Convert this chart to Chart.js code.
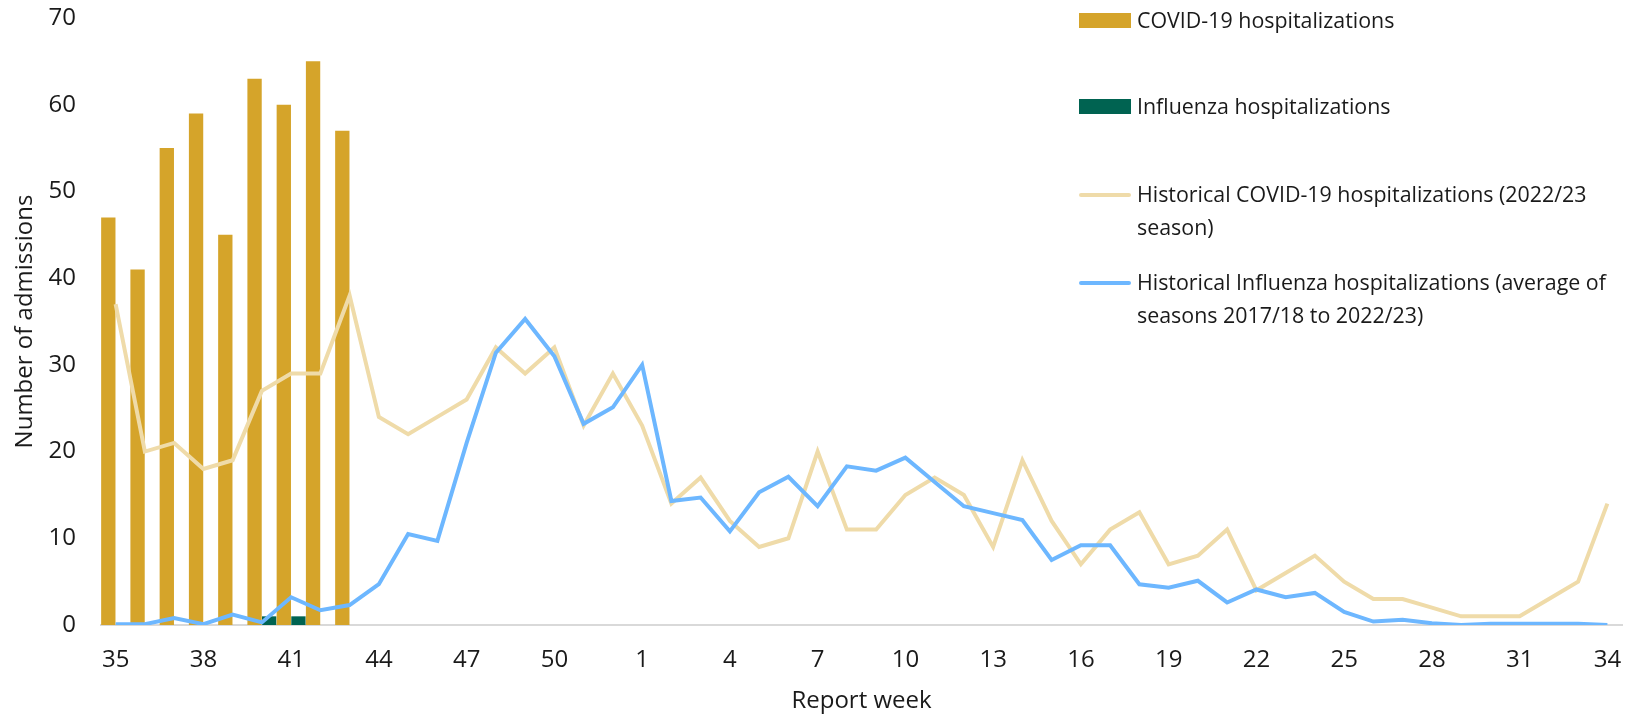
<!DOCTYPE html>
<html>
<head>
<meta charset="utf-8">
<script src="https://cdn.jsdelivr.net/npm/chart.js@4.4.0/dist/chart.umd.min.js"></script>
<style>
    body { margin: 0; background: #fff; }
    #wrap { position: relative; width: 1631px; height: 716px; font-family: "Open Sans", sans-serif; color: #1a1a1a; }
    #legend { position: absolute; left: 0; top: 0; }
    .item { position: absolute; left: 1137px; font-size: 21.4px; line-height: 32.5px; white-space: nowrap; }
    .sw { position: absolute; left: -58px; width: 52px; }
</style>
</head>
<body>
<div id="wrap">
    <canvas id="chart" width="1631" height="716"></canvas>
    <div id="legend"></div>
</div>
<script>
// report weeks, season 2023/24
const weeks = [35, 36, 37, 38, 39, 40, 41, 42, 43, 44, 45, 46, 47, 48, 49, 50, 51, 52,
    1, 2, 3, 4, 5, 6, 7, 8, 9, 10, 11, 12, 13, 14, 15, 16, 17, 18, 19, 20, 21, 22, 23, 24,
    25, 26, 27, 28, 29, 30, 31, 32, 33, 34];

const covidHosp = [47, 41, 55, 59, 45, 63, 60, 65, 57];
const fluHosp = [0, 0, 0, 0, 0, 1, 1, 0, 0];

const histCovid = [37, 20, 21, 18, 19, 27, 29, 29, 38, 24, 22, 24, 26, 32, 29, 32, 23, 29,
    23, 14, 17, 12, 9, 10, 20, 11, 11, 15, 17, 15, 9, 19, 12, 7,
    11, 13, 7, 8, 11, 4, 6, 8, 5, 3, 3, 2, 1, 1, 1, 3, 5, 14];

const histFlu = [0.1, 0.1, 0.8, 0.1, 1.2, 0.3, 3.2, 1.7, 2.3, 4.7, 10.5, 9.7, 21, 31.4, 35.3, 31, 23.2, 25.1,
    30, 14.3, 14.7, 10.8, 15.3, 17.1, 13.7, 18.3, 17.8, 19.3, 16.5, 13.7, 12.9, 12.1, 7.5, 9.2,
    9.2, 4.7, 4.3, 5.1, 2.6, 4.1, 3.2, 3.7, 1.5, 0.4, 0.6, 0.2, 0, 0.15, 0.15, 0.15, 0.15, 0];

const yTicks = [0, 10, 20, 30, 40, 50, 60, 70];

const seriesNames = [
    'COVID-19 hospitalizations',
    'Influenza hospitalizations',
    'Historical COVID-19 hospitalizations (2022/23 season)',
    'Historical Influenza hospitalizations (average of seasons 2017/18 to 2022/23)'
];

const colors = {
    covid: '#D5A42A',
    flu: '#006351',
    histCovid: '#EFDBA9',
    histFlu: '#6DB7FF',
    axis: '#D9D9D9'
};

function buildLegend() {
    const legend = document.getElementById('legend');
    const rows = [
        { top: 4, kind: 'bar', color: colors.covid, html: seriesNames[0] },
        { top: 90, kind: 'bar', color: colors.flu, html: seriesNames[1] },
        { top: 178, kind: 'line', color: colors.histCovid, html: 'Historical COVID-19 hospitalizations (2022/23<br>season)' },
        { top: 266, kind: 'line', color: colors.histFlu, html: 'Historical Influenza hospitalizations (average of<br>seasons 2017/18 to 2022/23)' }
    ];
    rows.forEach(r => {
        const div = document.createElement('div');
        div.className = 'item';
        div.style.top = r.top + 'px';
        const sw = document.createElement('span');
        sw.className = 'sw';
        sw.style.background = r.color;
        if (r.kind === 'bar') {
            sw.style.height = '15px';
            sw.style.top = '9px';
        } else {
            sw.style.height = '4px';
            sw.style.top = '14.5px';
            sw.style.borderRadius = '2px';
        }
        div.appendChild(sw);
        div.insertAdjacentHTML('beforeend', r.html);
        legend.appendChild(div);
    });
}

function drawChart() {
    const ctx = document.getElementById('chart').getContext('2d');
    const axisFont = { family: '"Open Sans", sans-serif', size: 24 };

    new Chart(ctx, {
        type: 'bar',
        data: {
            labels: weeks,
            datasets: [
                {
                    type: 'line',
                    label: seriesNames[3],
                    data: histFlu,
                    borderColor: colors.histFlu,
                    borderWidth: 4,
                    pointRadius: 0,
                    tension: 0,
                    order: 0
                },
                {
                    type: 'line',
                    label: seriesNames[2],
                    data: histCovid,
                    borderColor: colors.histCovid,
                    borderWidth: 4,
                    pointRadius: 0,
                    tension: 0,
                    order: 1
                },
                {
                    label: seriesNames[0],
                    data: covidHosp,
                    backgroundColor: colors.covid,
                    categoryPercentage: 1.0,
                    barPercentage: 0.98,
                    order: 2
                },
                {
                    label: seriesNames[1],
                    data: fluHosp,
                    backgroundColor: colors.flu,
                    categoryPercentage: 1.0,
                    barPercentage: 0.98,
                    order: 3
                }
            ]
        },
        options: {
            responsive: false,
            animation: false,
            devicePixelRatio: 1,
            layout: { padding: { top: 18, right: 9, left: 0, bottom: 0 } },
            plugins: {
                legend: { display: false },
                tooltip: { enabled: false }
            },
            scales: {
                x: {
                    grid: { display: false, drawTicks: false },
                    border: { display: true, color: colors.axis, width: 2 },
                    ticks: {
                        autoSkip: false,
                        maxRotation: 0,
                        padding: 21,
                        color: '#1a1a1a',
                        font: axisFont,
                        callback: function (val, i) {
                            return i % 3 === 0 ? this.getLabelForValue(val) : '';
                        }
                    },
                    title: {
                        display: true,
                        text: 'Report week',
                        color: '#1a1a1a',
                        font: axisFont,
                        padding: { top: 0, bottom: 0 }
                    },
                    afterFit: s => {
                        s.height = 91;
                        s.paddingLeft = 0;
                        s.paddingRight = 0;
                    }
                },
                y: {
                    min: 0,
                    max: 70,
                    afterBuildTicks: s => { s.ticks = yTicks.map(v => ({ value: v })); },
                    grid: { display: false, drawTicks: false },
                    border: { display: false },
                    ticks: {
                        padding: 25,
                        color: '#1a1a1a',
                        font: axisFont
                    },
                    title: {
                        display: true,
                        text: 'Number of admissions',
                        color: '#1a1a1a',
                        font: axisFont,
                        padding: { top: 11, bottom: 0 }
                    },
                    afterFit: s => {
                        s.width = 101;
                        s.paddingTop = 0;
                        s.paddingBottom = 0;
                    }
                }
            }
        }
    });
}

buildLegend();
document.fonts.load('24px "Open Sans"').then(drawChart, drawChart);
</script>
</body>
</html>
